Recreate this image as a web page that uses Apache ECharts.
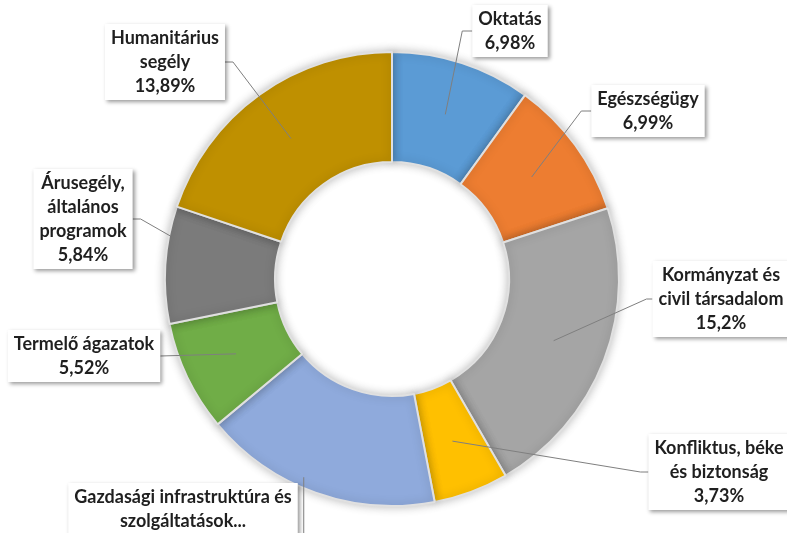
<!DOCTYPE html>
<html>
<head>
<meta charset="utf-8">
<script src="https://cdn.jsdelivr.net/npm/echarts@6/dist/echarts.min.js"></script>
<style>
  html, body { margin: 0; background: #fff; }
  #main { width: 787px; height: 533px; }
</style>
</head>
<body>
<div id="main"></div>
<script>
// ODA megoszlás ágazatonként (%)
const categories = [
  'Oktatás',
  'Egészségügy',
  'Kormányzat és\ncivil társadalom',
  'Konfliktus, béke\nés biztonság',
  'Gazdasági infrastruktúra és\nszolgáltatások...',
  'Termelő ágazatok',
  'Árusegély,\náltalános\nprogramok',
  'Humanitárius\nsegély'
]
const shares = [6.98, 6.99, 15.2, 3.73, 11.87, 5.52, 5.84, 13.89]
const colors = ['#5B9BD5', '#ED7D31', '#A5A5A5', '#FFC000', '#8FAADC', '#70AD47', '#7B7B7B', '#BF9000']

// layout of the donut and the label boxes (pixels)
const center = [392, 279]
const radius = [117, 227]
const labelBoxes = [
  { x: 510, y: 31, side: 'left', elbow: 10 },
  { x: 648, y: 111, side: 'left', elbow: 10 },
  { x: 721, y: 299, side: 'left', elbow: 6 },
  { x: 719, y: 472, side: 'left', elbow: 8 },
  { x: 183, y: 521, side: 'down', elbow: 0 },
  { x: 84, y: 356, side: 'right', elbow: 0 },
  { x: 83, y: 219, side: 'right', elbow: 8 },
  { x: 165, y: 62, side: 'right', elbow: 8 }
]
// where the leader line leaves the slice: radius, and angle if not the slice middle
const lineStarts = [
  { r: 173 }, { r: 173 }, { r: 173 }, { r: 173 },
  { r: 217, a: 204 }, { r: 173 }, { r: 226, a: 281 }, { r: 173 }
]

const total = shares.reduce((s, v) => s + v, 0)
const midAngles = []
let acc = 0
shares.forEach(v => {
  midAngles.push((acc + v / 2) / total * 360)
  acc += v
})

function startPoint (i) {
  const ls = lineStarts[i]
  const a = (ls.a != null ? ls.a : midAngles[i]) * Math.PI / 180
  return [center[0] + ls.r * Math.sin(a), center[1] - ls.r * Math.cos(a)]
}

const pieData = categories.map((name, i) => ({ name: name, value: shares[i] }))

const myChart = echarts.init(document.getElementById('main'))
myChart.setOption({
  animation: false,
  backgroundColor: '#fff',
  color: colors,
  series: [
    {
      // the coloured ring
      type: 'pie',
      center: center,
      radius: radius,
      startAngle: 90,
      silent: true,
      itemStyle: {
        borderColor: '#e0e0e0',
        borderWidth: 2,
        shadowBlur: 10,
        shadowColor: 'rgba(0,0,0,0.25)'
      },
      label: { show: false },
      labelLine: { show: false },
      data: pieData
    },
    {
      // same ring, transparent, carrying the labels so leader lines sit on top
      type: 'pie',
      z: 3,
      center: center,
      radius: radius,
      startAngle: 90,
      silent: true,
      avoidLabelOverlap: false,
      itemStyle: { color: 'rgba(0,0,0,0)' },
      label: {
        show: true,
        position: 'outside',
        formatter: p => p.name + '\n' + String(p.value).replace('.', ',') + '%',
        color: '#1f1f1f',
        fontFamily: 'Lato',
        fontWeight: 'bold',
        fontSize: 18,
        lineHeight: 24,
        align: 'center',
        backgroundColor: '#fff',
        padding: [2, 6],
        shadowColor: 'rgba(0,0,0,0.4)',
        shadowBlur: 4,
        shadowOffsetX: 2,
        shadowOffsetY: 2
      },
      labelLine: {
        show: true,
        lineStyle: { color: '#7f7f7f', width: 1 }
      },
      labelLayout: function (params) {
        const i = params.dataIndex
        const box = labelBoxes[i]
        const w = params.labelRect.width
        const h = params.labelRect.height
        const s = startPoint(i)
        let end
        let elbow
        if (box.side === 'left') {
          end = [box.x - w / 2, box.y]
          elbow = [end[0] - box.elbow, box.y]
        } else if (box.side === 'right') {
          end = [box.x + w / 2, box.y]
          elbow = [end[0] + box.elbow, box.y]
        } else {
          end = [s[0], box.y + h / 2]
          elbow = end
        }
        return {
          x: box.x,
          y: box.y,
          align: 'center',
          verticalAlign: 'middle',
          labelLinePoints: [s, elbow, end]
        }
      },
      data: pieData
    }
  ]
})
</script>
</body>
</html>
